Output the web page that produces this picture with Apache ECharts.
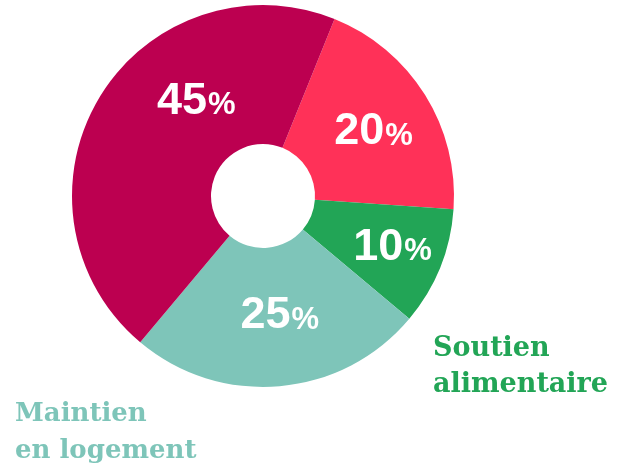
<!DOCTYPE html>
<html>
<head>
<meta charset="utf-8">
<script src="https://cdn.jsdelivr.net/npm/echarts@6/dist/echarts.min.js"></script>
<style>
html,body{margin:0;padding:0;background:#fff;}
#chart{width:624px;height:470px;}
</style>
</head>
<body>
<div id="chart"></div>
<script>
// Data (clockwise order starting just right of the top)
const categories = ['Catégorie 20 %', 'Soutien alimentaire', 'Maintien en logement', 'Catégorie 45 %'];
const values = [20, 10, 25, 45];
const outsideLabels = ['Soutien\nalimentaire', 'Maintien\nen logement'];

// Styles
const colors = ['#FF3158', '#22A556', '#7EC5B9', '#BC0050'];
const labelOffsets = [[5, 2], [14, 5], [6, -4], [40, -30]];

const data = categories.map(function (c, i) { return { name: c, value: values[i] }; });

const chart = echarts.init(document.getElementById('chart'), null, { renderer: 'canvas' });
chart.setOption({
  animation: false,
  color: colors,
  series: [{
    type: 'pie',
    center: [263, 196],
    radius: [52, 191],
    startAngle: 68,
    clockwise: true,
    silent: true,
    data: data,
    itemStyle: { borderWidth: 0 },
    label: {
      show: true,
      position: 'inside',
      formatter: function (p) { return '{n|' + p.value + '}{p|%}'; },
      rich: {
        n: { fontFamily: 'Liberation Sans', fontWeight: 'bold', fontSize: 45, color: '#fff' },
        p: { fontFamily: 'Liberation Sans', fontWeight: 'bold', fontSize: 31, color: '#fff', verticalAlign: 'bottom', padding: [0, 0, 3, 1] }
      }
    },
    labelLine: { show: false },
    labelLayout: function (params) {
      const o = labelOffsets[params.dataIndex];
      return { dx: o[0], dy: o[1] };
    }
  }],
  graphic: [
    {
      type: 'text', left: 433, top: 331,
      style: { text: outsideLabels[0], fill: '#22A556', font: 'bold 27px "DejaVu Serif"', lineHeight: 36 }
    },
    {
      type: 'text', left: 15, top: 396,
      style: { text: outsideLabels[1], fill: '#7EC5B9', font: 'bold 26px "DejaVu Serif"', lineHeight: 37 }
    }
  ]
});
</script>
</body>
</html>
